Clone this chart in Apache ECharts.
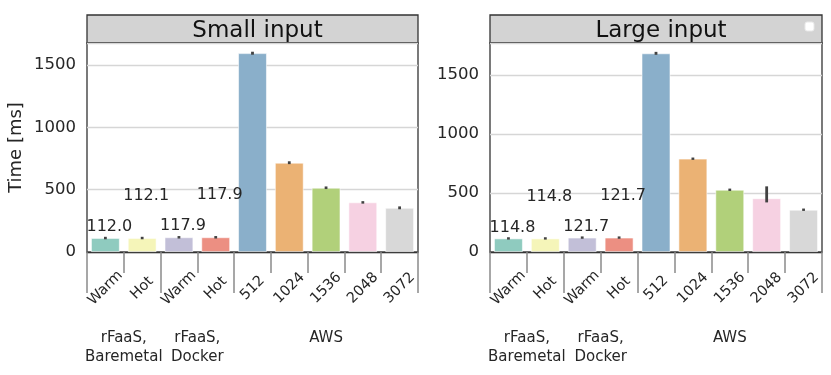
<!DOCTYPE html>
<html>
<head>
<meta charset="utf-8">
<script src="https://cdn.jsdelivr.net/npm/echarts@6/dist/echarts.min.js"></script>
<style>
  html, body { margin: 0; padding: 0; background: #fff; }
  #main { width: 831px; height: 375px; }
</style>
</head>
<body>
<div id="main"></div>
<script>
// categories
var categories = ['Warm', 'Hot', 'Warm', 'Hot', '512', '1024', '1536', '2048', '3072'];
var groupNames = ['rFaaS,\nBaremetal', 'rFaaS,\nDocker', 'AWS'];
var groupLabelPos = [1, 3, 6.5];
var groupTickPos = [0, 2, 4, 9];
var yTicks = [0, 500, 1000, 1500];

// small input
var smallMean = [112.0, 112.1, 117.9, 117.9, 1595, 716, 515, 398, 354];
var smallLow  = [102, 102, 108, 108, 1583, 705, 505, 388, 343];
var smallHigh = [122, 122, 128, 128, 1607, 728, 526, 408, 366];

// large input
var largeMean = [114.8, 114.8, 121.7, 121.7, 1682, 790, 527, 455, 358];
var largeLow  = [105, 105, 112, 112, 1670, 780, 517, 420, 348];
var largeHigh = [125, 125, 132, 132, 1695, 800, 537, 556, 368];

var colors = ['#8fcbbf', '#f5f5b9', '#c2bfd8', '#ec8f82', '#8aafca', '#ebb274', '#b1d07a', '#f6d1e2', '#d8d8d8'];

var font = 'DejaVu Sans';
var txt = '#262626';

window.onload = function () {
    var myChart = echarts.init(document.getElementById('main'));

    function barData(vals) {
        return vals.map(function (v, i) {
            var item = { value: v, itemStyle: { color: colors[i] } };
            if (i < 4) {
                item.label = {
                    show: true,
                    position: 'top',
                    distance: (i % 2 === 0) ? 3 : 34,
                    offset: [4, 0],
                    formatter: v.toFixed(1),
                    fontFamily: font,
                    fontSize: 16,
                    color: txt
                };
            }
            return item;
        });
    }

    function errData(lo, hi) {
        return lo.map(function (l, i) { return [i, l, hi[i]]; });
    }

    function renderErr(params, api) {
        var a = api.coord([api.value(0), api.value(1)]);
        var b = api.coord([api.value(0), api.value(2)]);
        return {
            type: 'line',
            shape: { x1: a[0], y1: a[1], x2: b[0], y2: b[1] },
            style: { stroke: '#424242', lineWidth: 2.8 }
        };
    }

    // 一个面板的坐标轴
    function catAxis(g) {
        return {
            type: 'category', gridIndex: g, data: categories,
            axisLine: { show: true, lineStyle: { color: '#333', width: 1.3 } },
            axisTick: { show: true, interval: 0, length: 21, lineStyle: { color: '#8a8a8a', width: 1.5 } },
            axisLabel: {
                interval: 0, rotate: 45, align: 'center', verticalAlign: 'middle', margin: 36,
                fontFamily: font, fontSize: 14.5, color: txt
            }
        };
    }
    function groupAxis(g) {
        return {
            type: 'value', gridIndex: g, min: 0, max: 9, position: 'bottom',
            axisLine: { show: false },
            splitLine: { show: false },
            axisTick: { show: true, customValues: groupTickPos, length: 41, lineStyle: { color: '#8a8a8a', width: 1.5 } },
            axisLabel: {
                customValues: groupLabelPos, margin: 77,
                fontFamily: font, fontSize: 15, lineHeight: 19, color: txt,
                formatter: function (v) { return groupNames[groupLabelPos.indexOf(v)] || ''; }
            }
        };
    }
    function valAxis(g, max, name) {
        return {
            type: 'value', gridIndex: g, min: 0, max: max, interval: 500,
            name: name, nameLocation: 'middle', nameGap: 62,
            nameTextStyle: { fontFamily: font, fontSize: 18, color: txt },
            axisLine: { show: false },
            axisTick: { show: false },
            splitLine: { lineStyle: { color: '#d6d6d6', width: 1.4 } },
            axisLabel: {
                customValues: yTicks, margin: 11,
                fontFamily: font, fontSize: 16.5, color: txt,
                formatter: function (v) { return String(v); }
            }
        };
    }

    var option = {
        animation: false,
        textStyle: { fontFamily: font },
        title: [
            { text: 'Small input', left: 252.5, top: 15, textAlign: 'center',
              textStyle: { fontFamily: font, fontSize: 23, fontWeight: 'normal', color: '#111' } },
            { text: 'Large input', left: 656, top: 15, textAlign: 'center',
              textStyle: { fontFamily: font, fontSize: 23, fontWeight: 'normal', color: '#111' } }
        ],
        graphic: [
            { type: 'rect', z: -1, shape: { x: 87, y: 15, width: 331, height: 28 },
              style: { fill: '#d3d3d3', stroke: '#333', lineWidth: 1.3 } },
            { type: 'rect', z: -1, shape: { x: 490, y: 15, width: 332, height: 28 },
              style: { fill: '#d3d3d3', stroke: '#333', lineWidth: 1.3 } },
            // 空图例
            { type: 'rect', shape: { x: 805, y: 22, width: 9, height: 9, r: 2 },
              style: { fill: '#fff', stroke: '#e8e8e8', lineWidth: 1 } }
        ],
        grid: [
            { left: 87, top: 43, width: 331, height: 209, show: true, borderColor: '#333', borderWidth: 1.3 },
            { left: 490, top: 43, width: 332, height: 209, show: true, borderColor: '#333', borderWidth: 1.3 }
        ],
        xAxis: [catAxis(0), groupAxis(0), catAxis(1), groupAxis(1)],
        yAxis: [valAxis(0, 1677, 'Time [ms]'), valAxis(1, 1770, '')],
        series: [
            { type: 'bar', xAxisIndex: 0, yAxisIndex: 0, barWidth: '78%',
              itemStyle: { borderColor: 'rgba(255,255,255,0.7)', borderWidth: 0.8 },
              data: barData(smallMean) },
            { type: 'custom', xAxisIndex: 0, yAxisIndex: 0, renderItem: renderErr,
              encode: { x: 0, y: [1, 2] }, z: 5, data: errData(smallLow, smallHigh) },
            { type: 'bar', xAxisIndex: 2, yAxisIndex: 1, barWidth: '78%',
              itemStyle: { borderColor: 'rgba(255,255,255,0.7)', borderWidth: 0.8 },
              data: barData(largeMean) },
            { type: 'custom', xAxisIndex: 2, yAxisIndex: 1, renderItem: renderErr,
              encode: { x: 0, y: [1, 2] }, z: 5, data: errData(largeLow, largeHigh) }
        ]
    };

    myChart.setOption(option);
};
</script>
</body>
</html>
